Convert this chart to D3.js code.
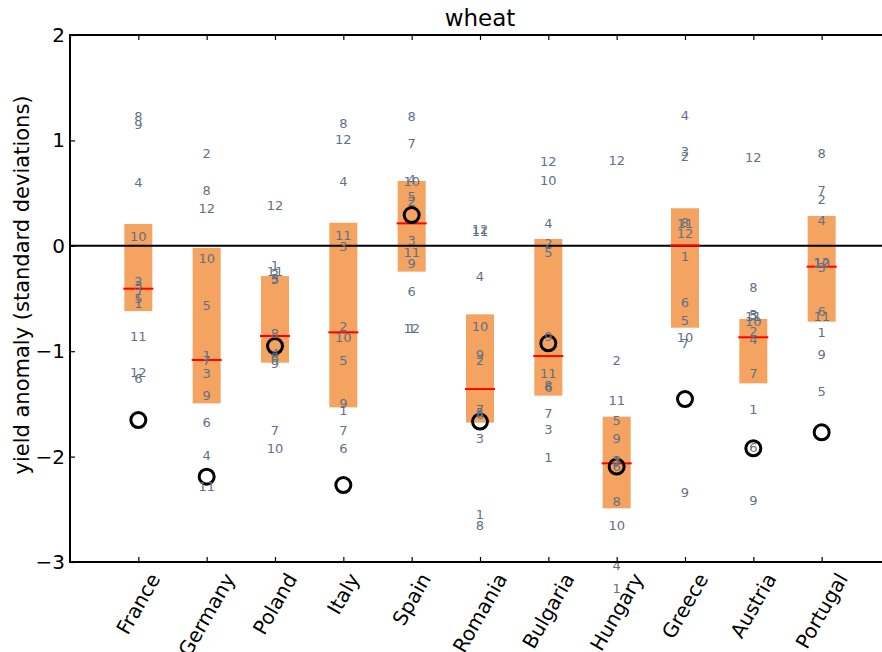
<!DOCTYPE html>
<html>
<head>
<meta charset="utf-8">
<script src="https://d3js.org/d3.v7.min.js"></script>
<style>
    body { margin: 0; background: #fff; }
    svg { display: block; font-family: 'DejaVu Sans', sans-serif; }
</style>
</head>
<body>
<script>
// countries along the x axis
const countries = ['France', 'Germany', 'Poland', 'Italy', 'Spain', 'Romania',
                   'Bulgaria', 'Hungary', 'Greece', 'Austria', 'Portugal'];

// orange bar, top and bottom
const barHigh = [0.207, -0.02, -0.287, 0.219, 0.615, -0.65, 0.065, -1.621, 0.356, -0.694, 0.283];
const barLow = [-0.62, -1.495, -1.109, -1.533, -0.245, -1.678, -1.422, -2.491, -0.777, -1.305, -0.72];

// red line
const medians = [-0.407, -1.083, -0.856, -0.821, 0.213, -1.359, -1.046, -2.064, 0.003, -0.868, -0.198];

// black circles
const observed = [-1.653, -2.19, -0.951, -2.27, 0.292, -1.668, -0.925, -2.095, -1.454, -1.921, -1.77];

// numbered values 1..12 for each country
const france   = [-0.55, -0.34, -0.38, 0.60, -0.50, -1.257, -0.45, 1.23, 1.155, 0.087, -0.856, -1.20];
const germany  = [-1.04, 0.871, -1.21, -1.985, -0.562, -1.675, -1.09, 0.529, -1.416, -0.119, -2.285, 0.356];
const poland   = [-0.19, -0.27, -0.31, -1.02, -0.32, -1.06, -1.748, -0.83, -1.12, -1.92, -0.24, 0.378];
const italy    = [-1.558, -0.761, -0.002, 0.609, -1.09, -1.921, -1.748, 1.162, -1.495, -0.868, 0.102, 1.013];
const spain    = [-0.78, 0.42, 0.055, 0.63, 0.472, -0.435, 0.966, 1.225, -0.166, 0.61, -0.065, -0.783];
const romania  = [-2.554, -1.084, -1.826, -0.293, -1.58, -1.6, -1.55, -2.649, -1.036, -0.761, 0.14, 0.15];
const bulgaria = [-2.007, 0.023, -1.741, 0.213, -0.065, -1.343, -1.59, -1.33, -0.862, 0.624, -1.21, 0.798];
const hungary  = [-3.25, -1.084, -2.04, -3.03, -1.662, -2.09, -2.06, -2.428, -1.826, -2.649, -1.469, 0.805];
const greece   = [-0.103, 0.845, 0.893, 1.232, -0.713, -0.536, -0.925, 0.22, -2.342, -0.868, 0.21, 0.119];
const austria  = [-1.552, -0.815, -0.65, -0.887, -0.66, -1.915, -1.21, -0.397, -2.421, -0.72, -0.67, 0.839];
const portugal = [-0.821, 0.444, -0.21, 0.238, -1.378, -0.625, 0.529, 0.877, -1.036, -0.17, -0.673, -0.16];
const members = [france, germany, poland, italy, spain, romania, bulgaria, hungary, greece, austria, portugal];

const yTicks = [-3, -2, -1, 0, 1, 2];

window.addEventListener('load', () => {

    let width = 882, height = 652;
    let left = 70, right = 890, top = 35, bottom = 562;

    let svg = d3.select('body')
                .append('svg')
                .attr('width', width)
                .attr('height', height);

    // categories sit at 1..11, axis runs 0..12
    let x = d3.scaleLinear().domain([0, countries.length + 1]).range([left, right]);
    let y = d3.scaleLinear().domain([-3, 2]).range([bottom, top]);

    let barW = x(0.41) - x(0);

    svg.selectAll('rect.bar')
        .data(countries)
        .enter().append('rect')
        .attr('x', (d, i) => x(i + 1) - barW / 2)
        .attr('y', (d, i) => y(barHigh[i]))
        .attr('width', barW)
        .attr('height', (d, i) => y(barLow[i]) - y(barHigh[i]))
        .attr('fill', '#f4a460');

    // zero line
    svg.append('line')
        .attr('x1', left).attr('x2', right)
        .attr('y1', y(0)).attr('y2', y(0))
        .attr('stroke', 'black')
        .attr('stroke-width', 2);

    svg.selectAll('line.median')
        .data(medians)
        .enter().append('line')
        .attr('x1', (d, i) => x(i + 1) - barW / 2 - 1)
        .attr('x2', (d, i) => x(i + 1) + barW / 2 + 1)
        .attr('y1', d => y(d))
        .attr('y2', d => y(d))
        .attr('stroke', 'red')
        .attr('stroke-width', 2);

    svg.selectAll('circle.obs')
        .data(observed)
        .enter().append('circle')
        .attr('cx', (d, i) => x(i + 1))
        .attr('cy', d => y(d))
        .attr('r', 7.5)
        .attr('fill', 'none')
        .attr('stroke', 'black')
        .attr('stroke-width', 3);

    // the numbers, not clipped to the axes
    members.forEach((vals, i) => {
        svg.selectAll(null)
            .data(vals)
            .enter().append('text')
            .attr('x', x(i + 1))
            .attr('y', d => y(d))
            .attr('text-anchor', 'middle')
            .attr('dominant-baseline', 'central')
            .attr('font-size', 13)
            .attr('fill', '#5f7186')
            .text((d, j) => j + 1);
    });

    // frame
    svg.append('rect')
        .attr('x', left).attr('y', top)
        .attr('width', right - left).attr('height', bottom - top)
        .attr('fill', 'none')
        .attr('stroke', 'black')
        .attr('stroke-width', 2);

    // ticks point inward (left/right and top/bottom)
    let yAxis = svg.append('g')
                    .attr('transform', `translate(${left},0)`)
                    .call(d3.axisRight(y).tickValues(yTicks).tickSize(5).tickFormat(''));
    let yAxisR = svg.append('g')
                    .attr('transform', `translate(${right},0)`)
                    .call(d3.axisLeft(y).tickValues(yTicks).tickSize(5).tickFormat(''));
    let xTickVals = countries.map((d, i) => i + 1);
    let xAxisB = svg.append('g')
                    .attr('transform', `translate(0,${bottom})`)
                    .call(d3.axisTop(x).tickValues(xTickVals).tickSize(5).tickFormat(''));
    let xAxisT = svg.append('g')
                    .attr('transform', `translate(0,${top})`)
                    .call(d3.axisBottom(x).tickValues(xTickVals).tickSize(5).tickFormat(''));
    [yAxis, yAxisR, xAxisB, xAxisT].forEach(g => {
        g.select('.domain').remove();
        g.selectAll('line').attr('stroke-width', 1.2);
    });

    // y tick labels
    svg.selectAll('text.ytick')
        .data(yTicks)
        .enter().append('text')
        .attr('x', left - 5)
        .attr('y', d => y(d))
        .attr('text-anchor', 'end')
        .attr('dominant-baseline', 'central')
        .attr('font-size', 20)
        .text(d => d < 0 ? '\u2212' + Math.abs(d) : d);

    // country labels rotated 60 degrees, box centred under the tick
    let labelTop = bottom + 8;
    let fs = 20;
    svg.selectAll('text.xtick')
        .data(countries)
        .enter().append('text')
        .attr('text-anchor', 'middle')
        .attr('dominant-baseline', 'central')
        .attr('font-size', fs)
        .text(d => d)
        .attr('transform', function(d, i) {
            let w = this.getComputedTextLength();
            let h = fs * 1.0;
            let boxH = w * Math.sin(Math.PI / 3) + h * Math.cos(Math.PI / 3);
            return `translate(${x(i + 1)},${labelTop + boxH / 2}) rotate(-60)`;
        });

    svg.append('text')
        .attr('transform', `translate(22,285) rotate(-90)`)
        .attr('text-anchor', 'middle')
        .attr('dominant-baseline', 'central')
        .attr('font-size', 21)
        .text('yield anomaly (standard deviations)');

    svg.append('text')
        .attr('x', (left + right) / 2)
        .attr('y', top - 9)
        .attr('text-anchor', 'middle')
        .attr('font-size', 23)
        .text('wheat');
})
</script>
</body>
</html>
